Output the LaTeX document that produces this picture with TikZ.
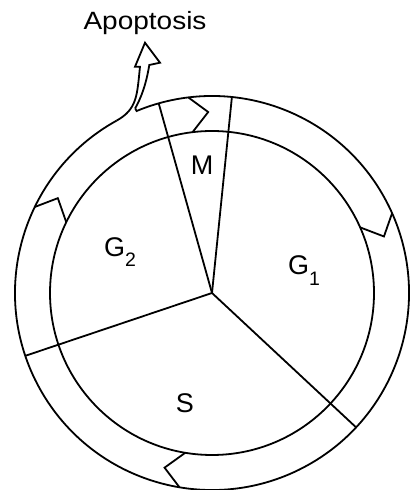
\documentclass[tikz,border=0pt]{standalone}
\usepackage{fontspec}
\setmainfont{Liberation Sans}
\begin{document}
\begin{tikzpicture}[x=1pt,y=1pt,
  ln/.style={line width=1.8pt, line join=miter},
  lbl/.style={inner sep=0pt, font=\fontsize{27}{30}\selectfont},
]
\useasboundingbox (0,0) rectangle (411,490);
\coordinate (C) at (212,197);
\begin{scope}[shift={(212,197)}]
  % inner circle
  \draw[ln] (0,0) circle[radius=162pt];
  % outer circle with gap for apoptosis arrow
  \draw[ln] (119:197pt) coordinate (ls) arc[start angle=119, end angle=472.5, radius=197pt] -- (112.6:200pt) coordinate (rc);
  % phase boundaries
  \draw[ln] (C) -- (105.7:197pt) coordinate (m1);
  \draw[ln] (C) -- (84.2:197pt) coordinate (m2);
  \draw[ln] (C) -- (198.6:197pt) coordinate (b1);
  \draw[ln] (C) -- (-43:197pt) coordinate (b2);
  % chevrons
  \foreach \t in {96.9,154.1,23.9,260.5}{
    \draw[ln] (\t:197pt) -- (\t-5.7:181pt) -- (\t:162pt);
  }
\end{scope}
% apoptosis hollow arrow
\draw[ln] (ls) .. controls +(29:24) and (137,395) .. (140,423.3)
  -- (135,423.3) -- (145,447.3) -- (160,427.3) -- (149.3,425)
  .. controls (146,405) and (141,392) .. (rc);
% labels
\node[anchor=base, inner sep=0pt, font=\fontsize{25}{30}\selectfont] (apo) at (145,460) {\scalebox{1.12}[1]{Apoptosis}};
\node[lbl, anchor=base] (m) at (202,315) {M};
\node[lbl, anchor=base west] (g2) at (104,233) {G\raisebox{-10pt}{\fontsize{19.5}{20}\selectfont 2}};
\node[lbl, anchor=base west] (g1) at (288,215) {G\raisebox{-11pt}{\fontsize{19.5}{20}\selectfont 1}};
\node[lbl, anchor=base] (s) at (185,77) {S};
\end{tikzpicture}
\end{document}
